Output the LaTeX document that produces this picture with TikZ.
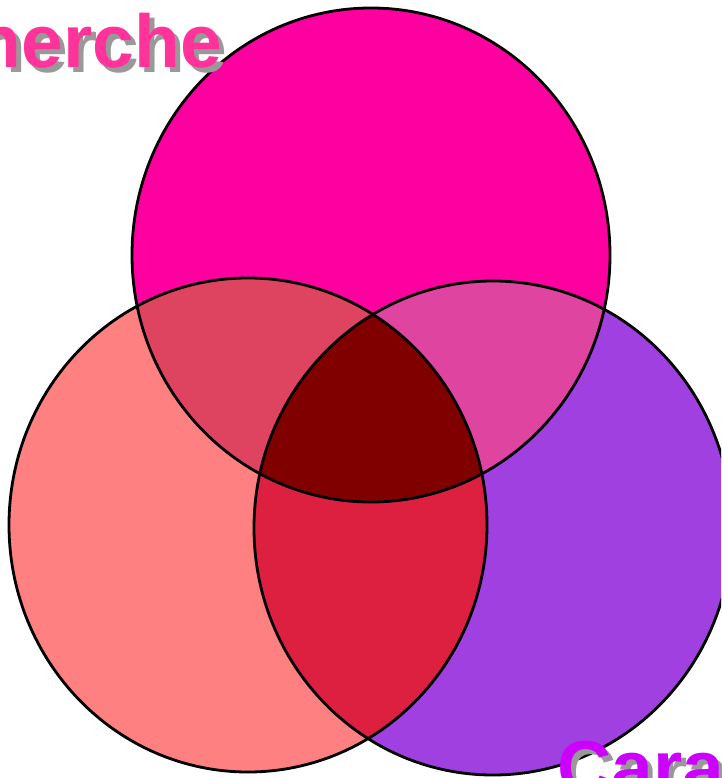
\documentclass[tikz,border=0pt]{standalone}
\usepackage{fontspec}
\setmainfont{Liberation Sans}
\begin{document}
\begin{tikzpicture}[x=1pt,y=-1pt,
  ring/.style={draw=black,line width=2.8pt},
  lbl/.style={inner sep=0pt,font=\fontsize{75}{80}\selectfont\bfseries},
  shadow/.style={lbl,text={rgb,255:red,153;green,153;blue,153}}]
\definecolor{ctop}{RGB}{255,0,160}
\definecolor{cleft}{RGB}{255,128,128}
\definecolor{cright}{RGB}{160,64,224}
\definecolor{ctl}{RGB}{222,68,96}
\definecolor{ctr}{RGB}{222,68,160}
\definecolor{clr}{RGB}{222,32,64}
\definecolor{cmid}{RGB}{128,0,0}
\definecolor{tpink}{RGB}{255,51,153}
\definecolor{tpurple}{RGB}{204,0,255}
\useasboundingbox (0,0) rectangle (721,778);
\clip (0,0) rectangle (721,778);
\def\ctop{(371,255) ellipse [x radius=239,y radius=247]}
\def\cleft{(248,525) ellipse [x radius=239,y radius=247]}
\def\cright{(493,528) ellipse [x radius=239,y radius=247]}
\fill[ctop] \ctop;
\fill[cleft] \cleft;
\fill[cright] \cright;
\begin{scope}
  \clip \ctop;
  \fill[ctl] \cleft;
  \fill[ctr] \cright;
\end{scope}
\begin{scope}
  \clip \cleft;
  \fill[clr] \cright;
  \clip \cright;
  \fill[cmid] \ctop;
\end{scope}
\draw[ring] \ctop;
\draw[ring] \cleft;
\draw[ring] \cright;
\node[shadow,anchor=base east] (t1s) at (227,73) {Recherche};
\node[lbl,text=tpink,anchor=base east] (t1) at (222,68) {Recherche};
\node[shadow,anchor=base west] (t2s) at (562,798) {Caractéristiques};
\node[lbl,text=tpurple,anchor=base west] (t2) at (557,793) {Caractéristiques};
\end{tikzpicture}
\end{document}
